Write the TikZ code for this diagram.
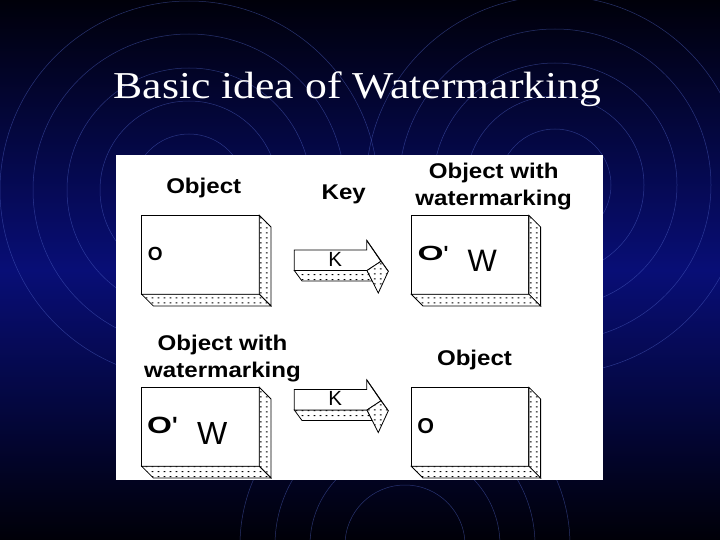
\documentclass[tikz,border=0pt]{standalone}
\usepackage{fontspec}
\usetikzlibrary{patterns}
\newfontfamily\ttlfont[FakeStretch=1.15]{Liberation Serif}
\newfontfamily\labfont[FakeStretch=1.13]{Liberation Sans}
\newfontfamily\boxfont{Liberation Sans}
\definecolor{bgtop}{RGB}{0,0,10}
\definecolor{bgmid}{RGB}{8,14,118}
\definecolor{bgbot}{RGB}{0,0,8}
\definecolor{ringcol}{RGB}{80,100,200}
\pgfdeclarepatternformonly{wmdots}{\pgfpointorigin}{\pgfpoint{6pt}{4.7pt}}{\pgfpoint{6pt}{4.7pt}}{\pgfpathrectangle{\pgfpoint{2pt}{1.8pt}}{\pgfpoint{2pt}{1pt}}\pgfusepath{fill}}
\tikzset{
  frontbox/.style={draw, fill=white, line width=0.9pt, minimum width=117.6pt, minimum height=79pt, inner sep=0pt, outer sep=0pt},
  sideface/.style={draw, fill=white, line width=0.8pt, line join=miter, postaction={pattern=wmdots}},
  whiteface/.style={draw, fill=white, line width=0.8pt, line join=miter},
  ring/.style={draw=ringcol, line width=0.5pt, opacity=0.5},
  lab/.style={inner sep=0pt, anchor=base, align=center, font=\labfont\bfseries\fontsize{21.3}{26.7}\selectfont},
  klabel/.style={inner sep=0pt, anchor=base, font=\boxfont\fontsize{20.5}{24}\selectfont},
  intext/.style={inner sep=0pt, anchor=base},
}
\newcommand\wmbox[3]{%
  \node[frontbox, anchor=north west] (#1) at (#2,#3) {};
  \draw[sideface] (#1.north east) -- ++(11.7,11.7) -- ++(0,79) -- (#1.south east) -- cycle;
  \draw[sideface] (#1.south west) -- (#1.south east) -- ++(11.7,11.7) -- ++(-117.6,0) -- cycle;
}
\newcommand\wmarrow[2]{%
  \begin{scope}[shift={(0,#2)}]
    \draw[sideface] (294.3,270.5) -- (367,270.5) -- (372.3,281) -- (302,281) -- cycle;
    \draw[whiteface] (294.3,250) -- (366.7,250) -- (366.7,240.3) -- (381,261.3) -- (367,270.5) -- (294.3,270.5) -- cycle;
    \draw[whiteface] (366.7,240.3) -- (388.3,271.3) -- (381,261.3) -- cycle;
    \draw[sideface] (381,261.3) -- (388.3,271.3) -- (378.3,293) -- (367,270.5) -- cycle;
    \node[klabel] (#1) at (335.3,266) {K};
  \end{scope}
}
\begin{document}
\begin{tikzpicture}[x=1pt,y=-1pt]
  \useasboundingbox (0,0) rectangle (720,540);
  \shade[top color=bgtop, bottom color=bgbot, middle color=bgmid] (0,0) rectangle (720,540);
  \begin{scope}
    \clip (0,0) rectangle (720,540);
    \foreach \r in {56,89,122,156,189} {
      \draw[ring] (189,190) circle (\r pt);
      \draw[ring] (555,185) circle (\r pt);
    }
    \foreach \r in {60,95,130,165} {
      \draw[ring] (405,545) circle (\r pt);
    }
  \end{scope}
  \node[intext, text=white, font=\ttlfont\fontsize{38}{44}\selectfont] (title) at (357.5,98.3) {Basic idea of Watermarking};
  \fill[white] (116,155.5) rectangle (603,480);
  \wmbox{b1}{141.7}{215.3}
  \wmbox{b2}{411.3}{215.3}
  \wmbox{b3}{141.7}{387.3}
  \wmbox{b4}{411.3}{387.3}
  \wmarrow{k1}{0}
  \wmarrow{k2}{139.5}
  \node[lab] (lobj1) at (203.7,193.3) {Object};
  \node[lab] (lkey) at (343.7,199.3) {Key};
  \node[lab] (lwm1) at (493.7,205.7) {Object with\\watermarking};
  \node[lab, font=\labfont\bfseries\fontsize{21.3}{27.7}\selectfont] (lwm2) at (222.5,377.7) {Object with\\watermarking};
  \node[lab] (lobj2) at (474.5,365) {Object};
  \node[intext, font=\boxfont\bfseries\fontsize{19}{22}\selectfont] (t1) at (155.2,260) {O};
  \node[intext, anchor=base west, font=\boxfont\bfseries\fontsize{20.5}{24}\selectfont] (t2) at (417.5,260) {\scalebox{1.63}[1]{O}'};
  \node[intext, font=\boxfont\fontsize{31}{36}\selectfont] (t2w) at (482.3,271.7) {W};
  \node[intext, anchor=base west, font=\boxfont\bfseries\fontsize{23.5}{28}\selectfont] (t3) at (147,433.3) {\scalebox{1.36}[1]{O}'};
  \node[intext, font=\boxfont\fontsize{32}{38}\selectfont] (t3w) at (212.2,444.3) {W};
  \node[intext, font=\boxfont\bfseries\fontsize{21.5}{25}\selectfont] (t4) at (425.8,433.3) {O};
\end{tikzpicture}
\end{document}
